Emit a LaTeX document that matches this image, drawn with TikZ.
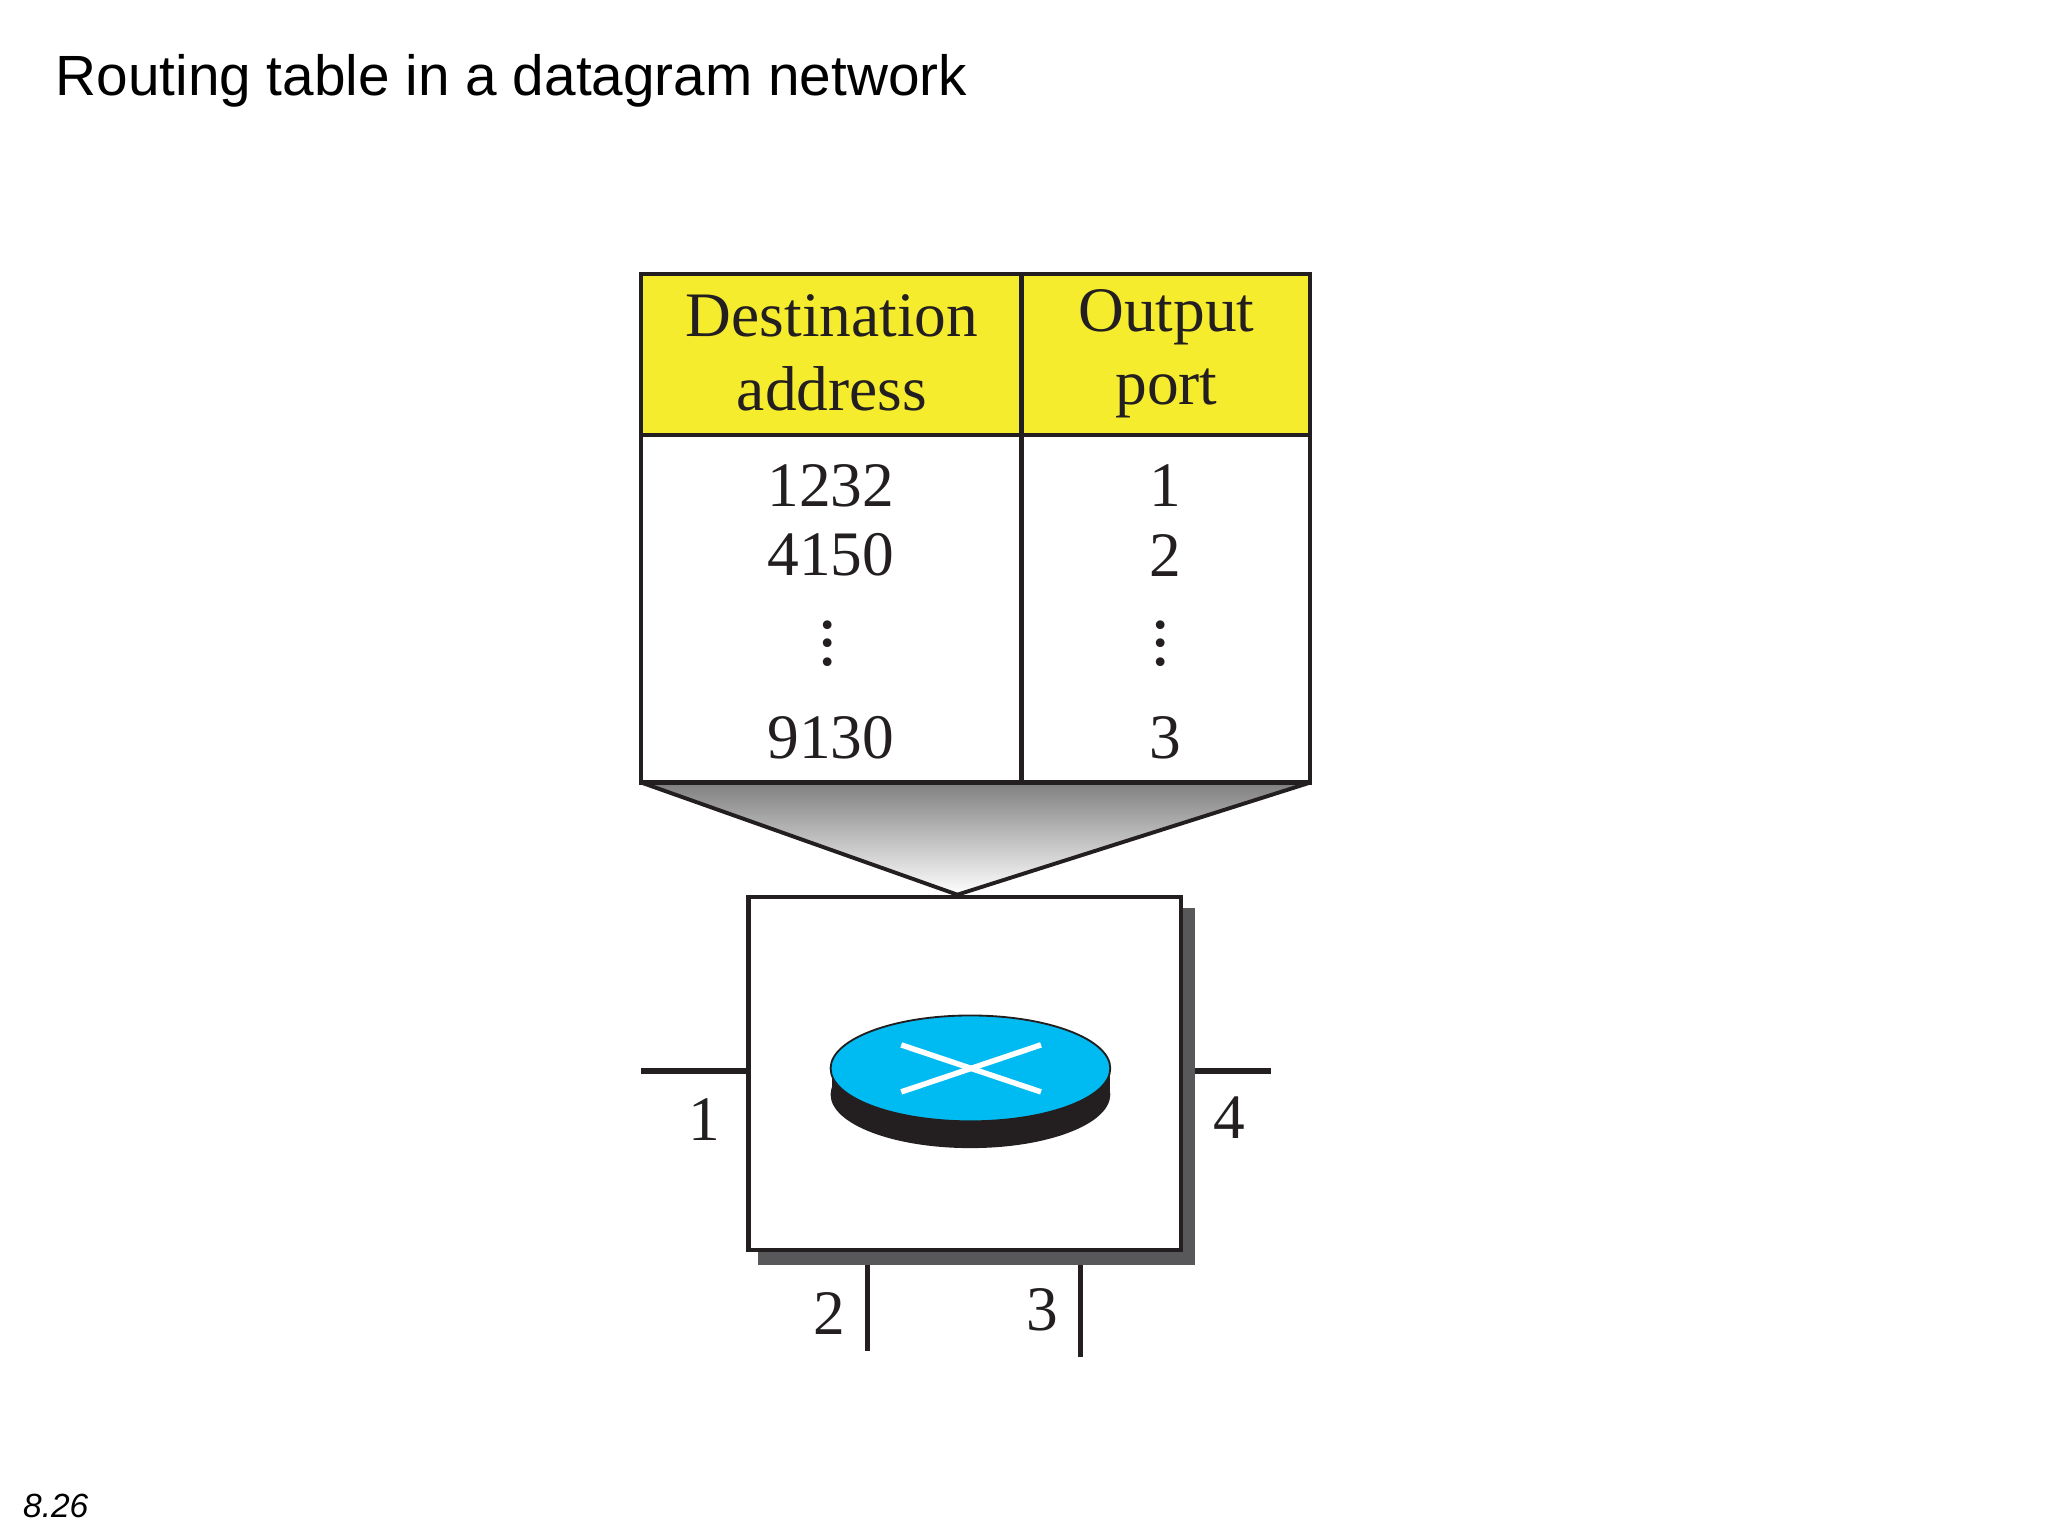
\documentclass[tikz,border=0pt]{standalone}
\usepackage{fontspec}
\setmainfont{Liberation Serif}
\newfontfamily\slidefont{Liberation Sans}
\usetikzlibrary{shapes.geometric}
\definecolor{hdryellow}{HTML}{F6EC2E}
\definecolor{discblue}{HTML}{00BBF1}
\definecolor{discdark}{HTML}{231F20}
\definecolor{shadowgray}{HTML}{58585A}
\tikzset{
    cell/.style={draw=discdark, line width=0.95pt, inner sep=0pt, outer sep=0pt},
    tabletext/.style={font=\fontsize{13.8}{16}\selectfont, text=discdark, inner sep=0pt, align=center},
    portline/.style={draw=discdark, line width=1.3pt},
}
\begin{document}
\begin{tikzpicture}[x=0.01cm, y=-0.01cm]
        \useasboundingbox (0,0) rectangle (1568,1176);

        \node[anchor=west, inner sep=0pt, font=\slidefont\fontsize{12.35}{15}\selectfont] (title) at (42,62) {Routing table in a datagram network};
        \node[anchor=west, inner sep=0pt, font=\slidefont\itshape\fontsize{7.3}{9}\selectfont] (slideno) at (17,1153) {8.26};

        % Table cells
        \node[cell, fill=hdryellow, minimum width=2.91cm, minimum height=1.23cm, anchor=north west] (hdrdest) at (491,210) {};
        \node[cell, fill=hdryellow, minimum width=2.21cm, minimum height=1.23cm, anchor=north west] (hdrport) at (782,210) {};
        \node[cell, minimum width=2.91cm, minimum height=2.66cm, anchor=north west] (bodydest) at (491,333) {};
        \node[cell, minimum width=2.21cm, minimum height=2.66cm, anchor=north west] (bodyport) at (782,333) {};

        % Table text
        \node[tabletext] (txtdest) at (637,270) {Destination\\address};
        \node[tabletext] (txtport) at (893,271) {Output\\port};
        \foreach \y/\a/\b in {372/1232/1, 425/4150/2, 565/9130/3} {
            \node[tabletext] (addr\a) at (636,\y) {\a};
            \node[tabletext] (port\b) at (892,\y) {\b};
        }
        \node[tabletext, font=\fontsize{16}{18}\selectfont] (dotsdest) at (634,482) {$\vdots$};
        \node[tabletext, font=\fontsize{16}{18}\selectfont] (dotsport) at (889,482) {$\vdots$};

        % Funnel down to the router
        \coordinate (apex) at (733,685);
        \shade[top color=gray, bottom color=white] (bodydest.south west) -- (bodyport.south east) -- (apex) -- cycle;
        \draw[discdark, line width=0.85pt] (bodydest.south west) -- (apex) -- (bodyport.south east);
        \draw[discdark, line width=1.2pt] (bodydest.south west) -- (bodyport.south east);

        % Router box with its shadow
        \node[fill=shadowgray, inner sep=0pt, outer sep=0pt, minimum width=3.35cm, minimum height=2.73cm, anchor=north west] (boxshadow) at (580,695) {};
        \node[cell, fill=white, minimum width=3.31cm, minimum height=2.70cm, anchor=north west] (routerbox) at (573,687) {};

        % Router disc
        \node[ellipse, fill=discdark, inner sep=0pt, outer sep=0pt, minimum width=2.14cm, minimum height=0.82cm] (discbase) at (743,838) {};
        \fill[discdark] (637,818) rectangle (850,838);
        \node[ellipse, fill=discblue, draw=discdark, line width=0.4pt, inner sep=0pt, outer sep=0pt, minimum width=2.14cm, minimum height=0.81cm] (disctop) at (743,818) {};
        \draw[white, line width=1.2pt] (690,800) -- (797,836);
        \draw[white, line width=1.2pt] (690,836) -- (797,800);

        % Ports
        \coordinate (portA) at (491,820);
        \coordinate (portB) at (664,1034);
        \coordinate (portC) at (827,1039);
        \coordinate (portD) at (973,820);
        \draw[portline] (portA) -- (portA -| routerbox.west);
        \draw[portline] (portD) -- (portD -| boxshadow.east);
        \draw[portline, line width=1.05pt] (portB) -- (portB |- boxshadow.south);
        \draw[portline, line width=1.05pt] (portC) -- (portC |- boxshadow.south);

        \node[tabletext] (lblA) at (539,857) {1};
        \node[tabletext] (lblB) at (635,1006) {2};
        \node[tabletext] (lblC) at (798,1003) {3};
        \node[tabletext] (lblD) at (941,856) {4};

    \end{tikzpicture}
\end{document}
